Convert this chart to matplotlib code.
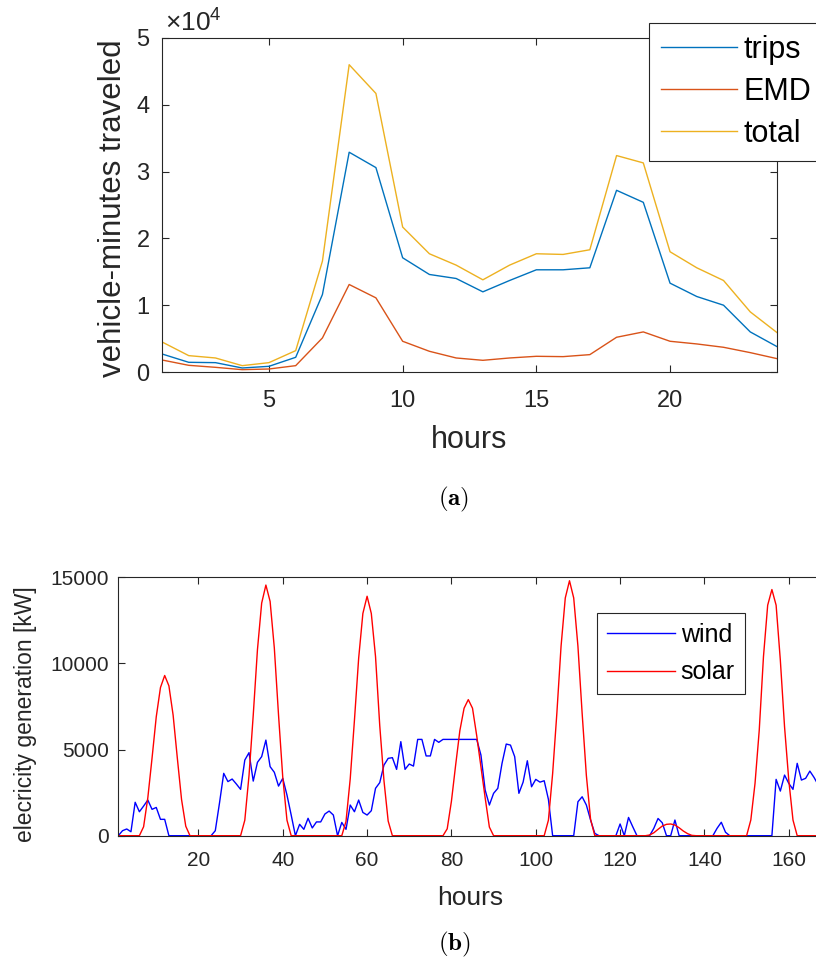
import numpy as np
import matplotlib
matplotlib.use("Agg")
import matplotlib.pyplot as plt
from matplotlib.ticker import FuncFormatter

plt.rcParams['font.family'] = ['Liberation Sans', 'DejaVu Sans']
plt.rcParams['mathtext.fontset'] = 'custom'
plt.rcParams['mathtext.rm'] = 'Liberation Sans'
plt.rcParams['mathtext.it'] = 'Liberation Sans:italic'
plt.rcParams['mathtext.bf'] = 'Liberation Sans:bold'

GRAY = '#262626'

# (a) hourly vehicle-minutes traveled
hours_a = np.arange(1, 25)
trips = [2700, 1450, 1400, 600, 850, 2200, 11600, 32900, 30600, 17100, 14600, 14000,
         12000, 13700, 15300, 15300, 15600, 27200, 25400, 13300, 11300, 10000, 6000, 3800]
emd = [1800, 1000, 700, 350, 450, 950, 5100, 13100, 11100, 4600, 3100, 2100,
       1750, 2100, 2350, 2300, 2600, 5200, 6000, 4600, 4200, 3700, 2900, 2000]
total = [4500, 2450, 2100, 950, 1400, 3200, 16600, 46000, 41700, 21700, 17700, 16000,
         13800, 16000, 17700, 17600, 18300, 32400, 31300, 18000, 15600, 13700, 9000, 5900]

# (b) one week of hourly generation [kW]
hours_b = np.arange(1, 169)
wind = [0, 290, 390, 230, 1940, 1390, 1720, 2070, 1530, 1640, 950, 950,
        0, 0, 0, 0, 0, 0, 0, 0, 0, 0, 0, 290,
        1900, 3620, 3140, 3290, 3000, 2690, 4390, 4820, 3170, 4260, 4590, 5550,
        4010, 3680, 2880, 3330, 2360, 1200, 0, 660, 370, 1010, 450, 800,
        800, 1260, 1430, 1200, 0, 770, 370, 1780, 1390, 2070, 1350, 1200,
        1450, 2750, 3080, 4100, 4490, 4530, 3850, 5460, 3850, 4160, 4040, 5590,
        5590, 4630, 4630, 5590, 5420, 5590, 5590, 5590, 5590, 5590, 5590, 5590,
        5590, 5590, 4680, 2650, 1780, 2460, 2750, 4200, 5320, 5260, 4590, 2460,
        3110, 4350, 2840, 3270, 3110, 3190, 2110, 0, 0, 0, 0, 0,
        0, 1970, 2260, 1780, 910, 135, 0, 0, 0, 0, 0, 680,
        0, 1060, 520, 0, 0, 0, 0, 430, 1000, 750, 0, 0,
        910, 0, 0, 0, 0, 0, 0, 0, 0, 0, 430, 780,
        200, 0, 0, 0, 0, 0, 0, 0, 0, 0, 0, 0,
        3270, 2590, 3520, 3040, 2690, 4200, 3230, 3330, 3750, 3380, 2940, 2800]
solar = [0, 0, 0, 0, 0, 0, 520, 2200, 4500, 6900, 8600, 9300,
         8700, 7000, 4500, 2100, 550, 0, 0, 0, 0, 0, 0, 0,
         0, 0, 0, 0, 0, 0, 900, 3500, 7000, 10800, 13500, 14550,
         13600, 10900, 7000, 3400, 900, 0, 0, 0, 0, 0, 0, 0,
         0, 0, 0, 0, 0, 0, 830, 3300, 6700, 10300, 12900, 13900,
         12900, 10400, 6400, 3200, 850, 0, 0, 0, 0, 0, 0, 0,
         0, 0, 0, 0, 0, 0, 400, 2000, 4100, 6100, 7400, 7900,
         7400, 5800, 4000, 2200, 500, 0, 0, 0, 0, 0, 0, 0,
         0, 0, 0, 0, 0, 0, 900, 3600, 7100, 11000, 13800, 14800,
         13800, 11000, 7100, 3500, 950, 0, 0, 0, 0, 0, 0, 0,
         0, 0, 0, 0, 0, 0, 40, 170, 370, 560, 660, 680,
         620, 460, 270, 120, 20, 0, 0, 0, 0, 0, 0, 0,
         0, 0, 0, 0, 0, 0, 910, 3040, 6130, 10390, 13380, 14290,
         13380, 10190, 6320, 3230, 910, 0, 0, 0, 0, 0, 0, 0]


def style_axes(ax, label_size, pad_x, pad_y):
    for sp in ax.spines.values():
        sp.set_color(GRAY)
        sp.set_linewidth(0.8)
    ax.tick_params(direction='in', top=True, right=True, length=5, width=0.8,
                   colors=GRAY, labelsize=label_size)
    ax.tick_params(axis='x', pad=pad_x)
    ax.tick_params(axis='y', pad=pad_y)


fig = plt.figure(figsize=(8.16, 9.67), dpi=100)

# top panel
ax1 = fig.add_axes([162 / 816, 1 - 372 / 967, 615 / 816, 334 / 967])
ax1.plot(hours_a, trips, color='#0072BD', lw=1.0, label='trips')
ax1.plot(hours_a, emd, color='#D95319', lw=1.0, label='EMD')
ax1.plot(hours_a, total, color='#EDB120', lw=1.0, label='total')
ax1.set_xlim(1, 24)
ax1.set_ylim(0, 50000)
ax1.set_xticks([5, 10, 15, 20])
ax1.set_yticks(np.arange(0, 50001, 10000))
ax1.yaxis.set_major_formatter(FuncFormatter(lambda v, p: '%d' % round(v / 1e4)))
style_axes(ax1, 17, 13, 9)
ax1.text(0.005, 1.005, r'$\times$10$^{4}$', transform=ax1.transAxes,
         ha='left', va='bottom', fontsize=19, color=GRAY)
ax1.set_xlabel('hours', fontsize=22, color=GRAY)
ax1.set_ylabel('vehicle-minutes traveled', fontsize=22.5, color=GRAY)
ax1.xaxis.set_label_coords(0.5, -0.16)
ax1.yaxis.set_label_coords(-0.055, 0.49)
leg1 = ax1.legend(loc='upper left', bbox_to_anchor=(649 / 816, 1 - 23 / 967),
                  bbox_transform=fig.transFigure, fontsize=22, frameon=True,
                  fancybox=False, framealpha=1, edgecolor=GRAY, borderaxespad=0,
                  handlelength=2.5, handletextpad=0.2, labelspacing=0.4,
                  borderpad=0.38)
leg1.get_frame().set_linewidth(0.8)

# bottom panel
ax2 = fig.add_axes([118.3 / 816, 1 - 835.7 / 967, 704.2 / 816, 258.4 / 967])
ax2.plot(hours_b, wind, color='b', lw=1.0, label='wind')
ax2.plot(hours_b, solar, color='r', lw=1.0, label='solar')
ax2.set_xlim(1, 168)
ax2.set_ylim(0, 15000)
ax2.set_xticks(np.arange(20, 161, 20))
ax2.set_yticks([0, 5000, 10000, 15000])
style_axes(ax2, 15, 11, 6.5)
ax2.set_xlabel('hours', fontsize=19, color=GRAY)
ax2.set_ylabel('elecricity generation [kW]', fontsize=16.5, color=GRAY)
ax2.xaxis.set_label_coords(0.5, -0.195)
ax2.yaxis.set_label_coords(-0.115, 0.47)
leg2 = ax2.legend(loc='upper left', bbox_to_anchor=(597 / 816, 1 - 613 / 967),
                  bbox_transform=fig.transFigure, fontsize=18, frameon=True,
                  fancybox=False, framealpha=1, edgecolor=GRAY, borderaxespad=0,
                  handlelength=2.7, handletextpad=0.25, labelspacing=0.53,
                  borderpad=0.4)
leg2.get_frame().set_linewidth(0.8)

# sub-figure captions
fig.text(454 / 816, 1 - 499 / 967, r'$\mathbf{(a)}$', math_fontfamily='cm',
         ha='center', va='center', fontsize=18)
fig.text(454 / 816, 1 - 944 / 967, r'$\mathbf{(b)}$', math_fontfamily='cm',
         ha='center', va='center', fontsize=18)

fig.savefig('out.png', dpi=100)
